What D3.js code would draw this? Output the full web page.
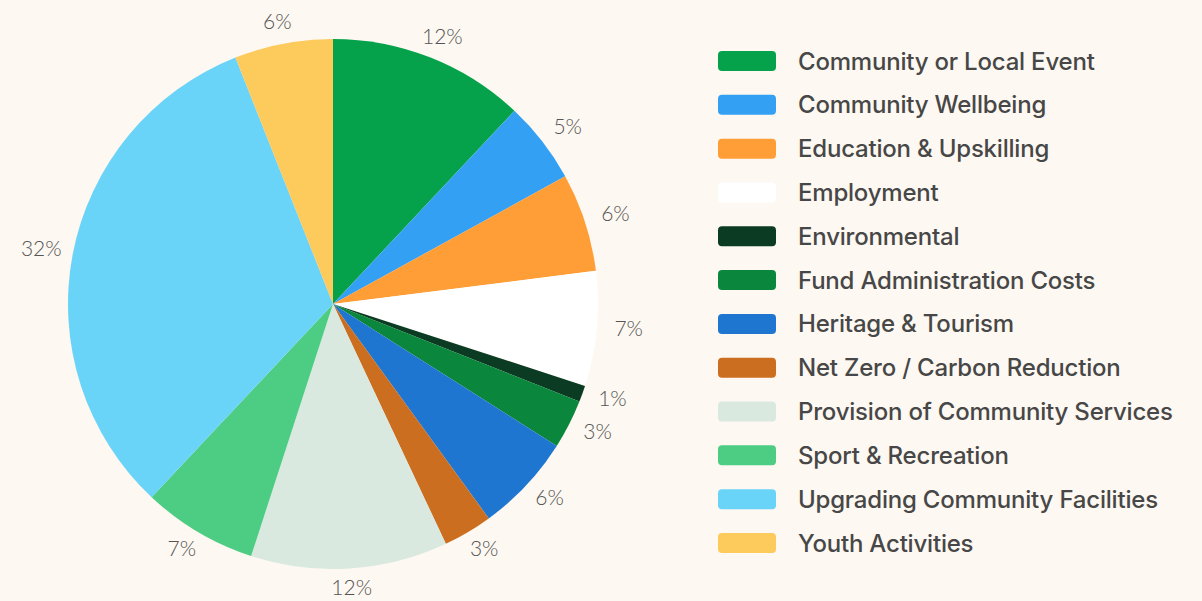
<!DOCTYPE html>
<html>
<head>
<meta charset="utf-8">
<script src="https://cdn.jsdelivr.net/npm/d3@7"></script>
<style>
  body { margin: 0; background: #fdf8f1; }
  svg { display: block; }
</style>
</head>
<body>
<svg width="1202" height="601"></svg>
<script>
var categories = ["Community or Local Event", "Community Wellbeing", "Education & Upskilling", "Employment",
  "Environmental", "Fund Administration Costs", "Heritage & Tourism", "Net Zero / Carbon Reduction",
  "Provision of Community Services", "Sport & Recreation", "Upgrading Community Facilities", "Youth Activities"];
var shares = [12, 5, 6, 7, 1, 3, 6, 3, 12, 7, 32, 6];
var colors = ["#05a24b", "#33a0f4", "#ff9e36", "#ffffff", "#0b3b22", "#0a873d", "#1e76d0", "#cb6e1f",
  "#d9e9df", "#4dcd83", "#69d3f8", "#fdca5c"];

var svg = d3.select("svg");
var cx = 333, cy = 304, radius = 265;

var data = categories.map(function(c, i) { return {name: c, value: shares[i], color: colors[i]}; });

var pie = d3.pie().sort(null).value(function(d) { return d.value; });
var arc = d3.arc().innerRadius(0).outerRadius(radius);
// unit arc: centroid gives direction, stretched a bit wider than tall for the labels
var unitArc = d3.arc().innerRadius(1).outerRadius(1);
var labelRx = 297, labelRy = 286;

var g = svg.append("g").attr("transform", "translate(" + cx + "," + cy + ")");
var arcs = pie(data);

g.selectAll("path")
  .data(arcs)
  .enter().append("path")
  .attr("d", arc)
  .attr("fill", function(d) { return d.data.color; });

g.selectAll("text")
  .data(arcs)
  .enter().append("text")
  .attr("transform", function(d) {
    var c = unitArc.centroid(d);
    return "translate(" + (c[0] * labelRx) + "," + (c[1] * labelRy - 3) + ")";
  })
  .attr("text-anchor", "middle")
  .attr("dominant-baseline", "central")
  .style("font-family", "Lato, sans-serif")
  .style("font-weight", 300)
  .style("font-size", "21px")
  .style("fill", "#555")
  .text(function(d) { return d.data.value + "%"; });

// legend
var y = d3.scalePoint().domain(categories).range([61, 543]);
var legend = svg.append("g");
var item = legend.selectAll("g")
  .data(data)
  .enter().append("g")
  .attr("transform", function(d) { return "translate(0," + y(d.name) + ")"; });

item.append("rect")
  .attr("x", 718).attr("y", -10)
  .attr("width", 58).attr("height", 20)
  .attr("rx", 4)
  .attr("fill", function(d) { return d.color; });

item.append("text")
  .attr("x", 798)
  .attr("dominant-baseline", "central")
  .style("font-family", "Inter, sans-serif")
  .style("font-weight", 500)
  .style("font-size", "24px")
  .style("letter-spacing", "-0.2px")
  .style("fill", "#474747")
  .text(function(d) { return d.name; });
</script>
</body>
</html>
